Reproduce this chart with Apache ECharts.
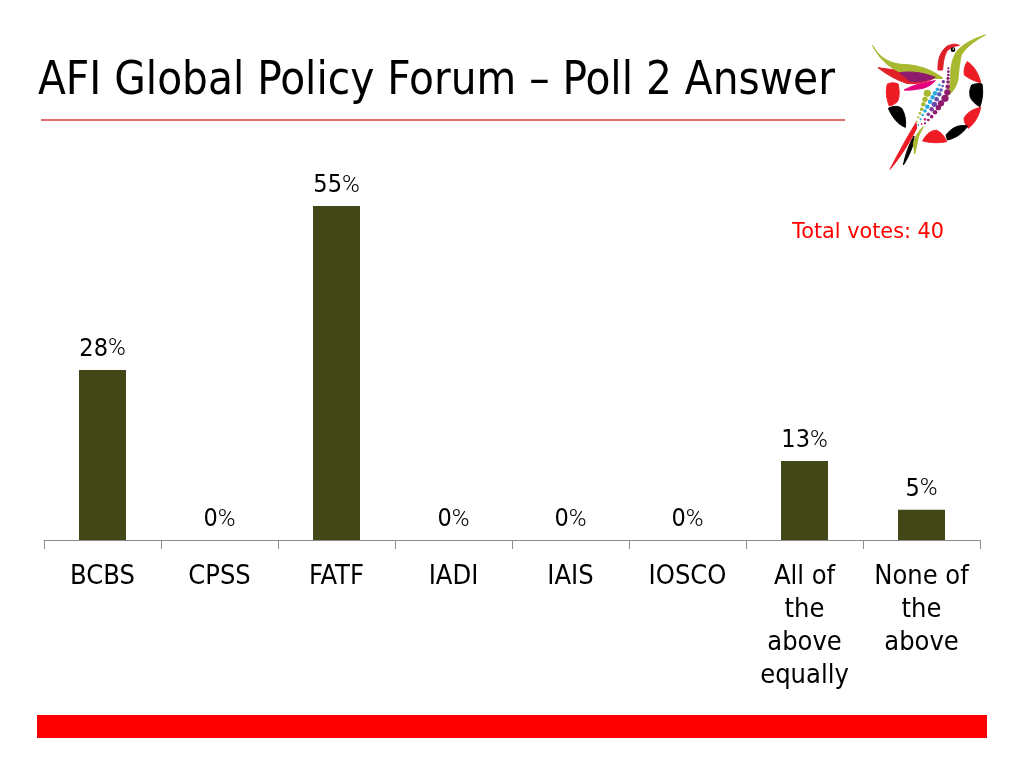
<!DOCTYPE html>
<html><head><meta charset="utf-8">
<style>html,body{margin:0;padding:0;background:#fff}#c{width:1024px;height:768px}</style>
<script src="https://cdn.jsdelivr.net/npm/echarts@6/dist/echarts.min.js"></script></head>
<body><div id="c"></div>
<script>
const categories = ['BCBS','CPSS','FATF','IADI','IAIS','IOSCO','All of\nthe\nabove\nequally','None of\nthe\nabove'];
const values = [28,0,55,0,0,0,13,5];
const FONT = '"DejaVu Sans Condensed","DejaVu Sans",sans-serif';
const logoPaths = [
 ['M322,125 Q352,145 362,188 Q335,182 313,165 Q310,142 322,125Z','#ed1c24'],
 ['M335,195 Q355,188 366,192 Q372,225 360,260 Q340,250 331,232 Q326,212 335,195Z','#000'],
 ['M312,295 Q325,270 362,262 Q355,300 325,325 Q313,312 312,295Z','#ed1c24'],
 ['M258,345 Q285,310 323,318 Q300,352 262,360Z','#000'],
 ['M188,363 Q205,330 230,331 Q250,340 260,365 Q225,372 188,363Z','#ed1c24'],
 ['M82,192 Q100,185 114,192 Q122,225 112,245 Q100,256 88,258 Q74,225 82,192Z','#ed1c24'],
 ['M85,265 Q108,253 125,265 Q140,290 136,322 Q105,310 85,265Z','#000'],
 ['M54,143 Q120,152 175,160 L222,175 Q180,195 140,190 Q95,175 54,143Z','#e01f26'],
 ['M38,77 Q70,135 144,134 Q204,140 249,175 Q194,178 134,162 Q70,140 38,77Z','#a9b92f'],
 ['M119,158 Q170,150 226,172 Q190,188 150,184Z','#8e1b6e'],
 ['M132,210 Q170,190 226,182 Q205,205 175,207 Q150,212 132,210Z','#e5007e'],
 ['M234,150 Q232,100 262,78 Q285,68 298,76 Q275,80 262,92 Q250,110 248,150Z','#e01f26'],
 ['M376,45 Q320,62 292,92 Q272,120 272,165 Q272,195 260,228 Q285,215 294,178 Q298,130 304,105 Q325,72 376,45Z','#a9b92f'],
 ['M168,308 Q130,370 90,448 Q135,395 170,325Z','#ed1c24'],
 ['M162,348 Q140,385 130,435 Q150,405 160,370Z','#000'],
 ['M190,320 Q165,345 160,370 L164,402 Q172,370 175,350Z','#a9b92f']
];
const logoDots = [
 [202,220,8,'#a9b92f'],[195,238,6,'#a9b92f'],[190,253,5,'#a9b92f'],[185,268,4,'#a9b92f'],[180,280,3,'#a9b92f'],[175,292,2.5,'#a9b92f'],[170,305,2,'#a9b92f'],
 [238,195,3,'#29abe2'],[232,208,4,'#29abe2'],[225,220,5,'#29abe2'],[218,232,5,'#29abe2'],[210,245,5,'#29abe2'],[202,260,5,'#29abe2'],[195,273,4,'#29abe2'],[188,285,3,'#29abe2'],[182,298,2.5,'#29abe2'],[175,315,2,'#29abe2'],
 [248,198,3,'#5b5bb5'],[243,210,4,'#5b5bb5'],[238,223,5,'#5b5bb5'],[230,238,5,'#6a4bab'],[223,253,6,'#6a4bab'],[215,268,5,'#7b3f98'],[205,283,4,'#7b3f98'],[195,298,3,'#d5297f'],[185,312,2,'#d5297f'],
 [265,145,2.5,'#8e1b6e'],[265,155,3,'#8e1b6e'],[265,165,3,'#8e1b6e'],[264,175,3.5,'#8e1b6e'],[264,186,4,'#8e1b6e'],[263,200,5,'#8e1b6e'],[262,217,7,'#8e1b6e'],[255,235,8,'#8e1b6e'],[243,250,7,'#8e1b6e'],[235,263,6,'#8e1b6e'],[225,277,5,'#8e1b6e'],[215,290,4,'#8e1b6e'],[205,300,3,'#8e1b6e'],[195,310,2.5,'#8e1b6e'],
 [250,185,3.5,'#6a2a90']
];
function toPoints(d){
  const t=d.match(/[MQLZ]|-?[\d.]+/g),pts=[];let i=0,cur=null;
  while(i<t.length){const c=t[i++];
    if(c==='M'||c==='L'){cur=[+t[i++],+t[i++]];pts.push(cur);}
    else if(c==='Q'){const a=[+t[i++],+t[i++]],b=[+t[i++],+t[i++]],s=cur;
      for(let k=1;k<=10;k++){const u=k/10,v=1-u;pts.push([v*v*s[0]+2*u*v*a[0]+u*u*b[0],v*v*s[1]+2*u*v*a[1]+u*u*b[1]]);}
      cur=b;}
  }
  return pts;
}
const logo = {type:'group',x:860,y:20,scaleX:1/3,scaleY:1/3,silent:true,children:[
  ...logoPaths.map(([d,c])=>({type:'polygon',shape:{points:toPoints(d)},style:{fill:c,stroke:c,lineWidth:3,lineJoin:'round'}})),
  ...logoDots.map(([x,y,r,c])=>({type:'circle',shape:{cx:x,cy:y,r:r*1.35},style:{fill:c}})),
  {type:'circle',shape:{cx:279,cy:89,r:7},style:{fill:'#000'}},
  {type:'circle',shape:{cx:280,cy:87,r:2.5},style:{fill:'#fff'}}
]};
const chart = echarts.init(document.getElementById('c'),null,{renderer:'canvas'});
chart.setOption({
  animation:false,
  backgroundColor:'#fff',
  title:{text:'AFI Global Policy Forum – Poll 2 Answer',left:38,top:53,padding:0,
    textStyle:{fontFamily:FONT,fontWeight:400,fontSize:45.3,color:'#000',lineHeight:58}},
  grid:{left:44,right:44,top:206,bottom:228,containLabel:false},
  xAxis:{type:'category',data:categories,
    axisLine:{lineStyle:{color:'#8c8c8c',width:1}},
    axisTick:{show:true,alignWithLabel:false,length:9,lineStyle:{color:'#8c8c8c'}},
    axisLabel:{interval:0,margin:20,fontFamily:FONT,fontSize:27,lineHeight:33,color:'#000'}},
  yAxis:{type:'value',min:0,max:55,show:false,splitLine:{show:false}},
  series:[{type:'bar',data:values,barWidth:47,itemStyle:{color:'#434616'},
    label:{show:true,position:'top',distance:8,formatter:p=>'{d|'+p.value+'}{p|%}',
      rich:{d:{fontFamily:FONT,fontSize:25,color:'#000'},p:{fontFamily:'Roboto,sans-serif',fontWeight:300,fontSize:24,color:'#000'}}}}],
  graphic:[
    {type:'line',silent:true,shape:{x1:41,y1:120,x2:845,y2:120},style:{stroke:'#e07070',lineWidth:2}},
    {type:'rect',silent:true,shape:{x:37,y:715,width:950,height:23},style:{fill:'#ff0000'}},
    {type:'text',silent:true,x:792,y:222,style:{text:'Total votes: 40',fontFamily:'"DejaVu Sans",sans-serif',fontSize:20.8,fill:'#ff0000'}},
    logo
  ]
});
</script></body></html>
